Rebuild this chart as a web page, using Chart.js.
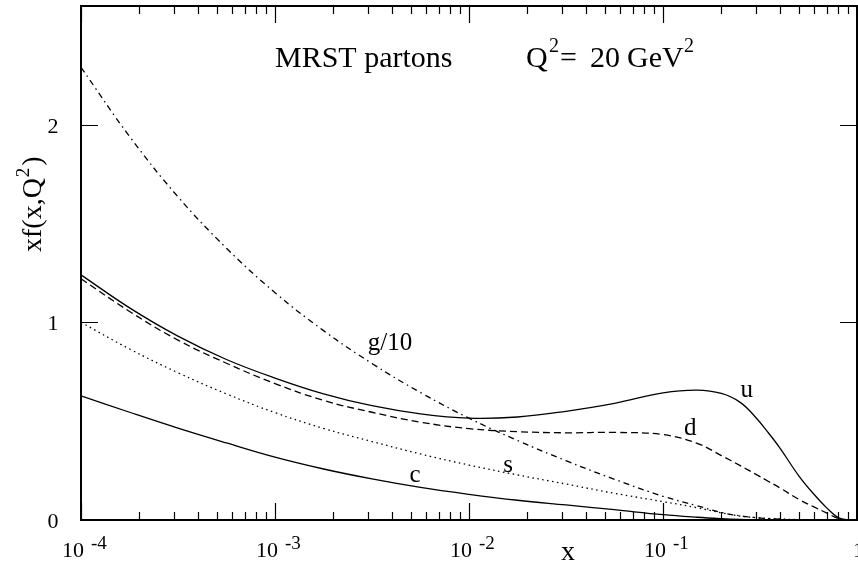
<!DOCTYPE html>
<html><head><meta charset="utf-8">
<script src="https://cdn.jsdelivr.net/npm/chart.js@4/dist/chart.umd.min.js"></script>
<style>html,body{margin:0;padding:0;background:#fff}#wrap{width:858px;height:563px}</style>
</head><body><div id="wrap"><canvas id="c" width="858" height="563"></canvas></div>
<script>
// ---- data (x, then xf(x,Q^2) per parton) ----
const xValues = [1e-4, 1.78e-4, 3.16e-4, 5.62e-4, 1e-3, 1.78e-3, 3.16e-3, 5.62e-3, 1e-2, 1.78e-2, 3.16e-2, 5.62e-2, 0.1, 0.15, 0.2, 0.25, 0.3, 0.35, 0.4, 0.5, 0.6, 0.7, 0.8, 0.9, 1.0];
const uValues = [1.24, 1.073, 0.93, 0.812, 0.718, 0.638, 0.578, 0.537, 0.515, 0.521, 0.55, 0.59, 0.643, 0.657, 0.64, 0.595, 0.52, 0.44, 0.365, 0.225, 0.13, 0.06, 0.012, 0.0, 0.0];
const dValues = [1.22, 1.055, 0.91, 0.793, 0.69, 0.605, 0.545, 0.495, 0.462, 0.447, 0.441, 0.443, 0.432, 0.388, 0.326, 0.275, 0.232, 0.195, 0.163, 0.105, 0.066, 0.035, 0.008, 0.0, 0.0];
const sValues = [1.0, 0.865, 0.745, 0.638, 0.543, 0.463, 0.397, 0.334, 0.278, 0.228, 0.182, 0.135, 0.093, 0.062, 0.036, 0.02, 0.012, 0.008, 0.005, 0.002, 0.0, 0.0, 0.0, 0.0, 0.0];
const cValues = [0.628, 0.545, 0.465, 0.39, 0.318, 0.258, 0.208, 0.165, 0.13, 0.1, 0.076, 0.052, 0.027, 0.014, 0.007, 0.003, 0.001, 0.0, 0.0, 0.0, 0.0, 0.0, 0.0, 0.0, 0.0];
const gOver10Values = [2.29, 1.94, 1.635, 1.375, 1.15, 0.958, 0.792, 0.645, 0.515, 0.402, 0.30, 0.206, 0.12, 0.072, 0.038, 0.021, 0.012, 0.007, 0.004, 0.001, 0.0, 0.0, 0.0, 0.0, 0.0];

const seriesNames = ['u', 'd', 's', 'c', 'g/10'];
const xMajorTicks = [1e-4, 1e-3, 1e-2, 1e-1, 1];
const xTickExponents = ['-4', '-3', '-2', '-1', ''];
const xMinorMultipliers = [2, 3, 4, 5, 6, 7, 8, 9];
const yMajorTicks = [0, 1, 2];
const yTickLabels = ['0', '1', '2'];
// label anchor points (data coordinates)
const curveLabelX = [0.27, 0.138, 0.0159, 0.00527, 0.00392];
const curveLabelY = [0.62, 0.43, 0.243, 0.193, 0.86];

const FONT = '"Liberation Serif", "Times New Roman", serif';

function pts(ys) { return xValues.map((x, i) => ({x: x, y: ys[i]})); }
function ds(label, ys, dash) {
  return {label: label, data: pts(ys), borderColor: '#000', borderWidth: 1.3,
    borderDash: dash, pointRadius: 0, fill: false, tension: 0.4,
    borderCapStyle: 'butt'};
}

function rich(ctx, x, y, pieces) {
  let cx = x;
  for (const p of pieces) {
    ctx.font = p[1] + 'px ' + FONT;
    ctx.fillText(p[0], cx, y - (p[2] || 0));
    cx += ctx.measureText(p[0]).width + (p[3] || 0);
  }
}

const decor = {
  id: 'decor',
  afterDatasetsDraw(chart) {
    const ctx = chart.ctx, a = chart.chartArea;
    const xs = chart.scales.x, ys = chart.scales.y;
    ctx.save();
    ctx.strokeStyle = '#000'; ctx.fillStyle = '#000';
    // frame
    ctx.lineWidth = 2;
    ctx.strokeRect(a.left, a.top, a.right - a.left, a.bottom - a.top);
    // x ticks (inward, bottom and top)
    ctx.lineWidth = 1.2;
    ctx.beginPath();
    xMajorTicks.forEach((t, i) => {
      const px = Math.round(xs.getPixelForValue(t)) + 0.5;
      ctx.moveTo(px, a.bottom); ctx.lineTo(px, a.bottom - 17);
      ctx.moveTo(px, a.top); ctx.lineTo(px, a.top + 17);
      if (i < xMajorTicks.length - 1) {
        xMinorMultipliers.forEach(m => {
          const q = Math.round(xs.getPixelForValue(t * m)) + 0.5;
          ctx.moveTo(q, a.bottom); ctx.lineTo(q, a.bottom - 8);
          ctx.moveTo(q, a.top); ctx.lineTo(q, a.top + 8);
        });
      }
    });
    yMajorTicks.forEach(t => {
      const py = Math.round(ys.getPixelForValue(t)) + 0.5;
      ctx.moveTo(a.left, py); ctx.lineTo(a.left + 17, py);
      ctx.moveTo(a.right, py); ctx.lineTo(a.right - 17, py);
    });
    ctx.stroke();
    // x tick labels
    ctx.textBaseline = 'alphabetic';
    xMajorTicks.forEach((t, i) => {
      const px = xs.getPixelForValue(t);
      if (xTickExponents[i] === '') {
        ctx.font = '22px ' + FONT; ctx.textAlign = 'left';
        ctx.fillText('1', px - 4, 557);
      } else {
        ctx.font = '22px ' + FONT; ctx.textAlign = 'right';
        ctx.fillText('10', px + 3, 557);
        ctx.font = '19px ' + FONT; ctx.textAlign = 'left';
        ctx.fillText(xTickExponents[i], px + 10, 549);
      }
    });
    // y tick labels
    ctx.font = '22px ' + FONT; ctx.textAlign = 'center';
    yMajorTicks.forEach((t, i) => {
      ctx.fillText(yTickLabels[i], 53, ys.getPixelForValue(t) + 8);
    });
    // axis titles
    ctx.font = '28px ' + FONT; ctx.textAlign = 'center';
    ctx.fillText('x', 568, 560);
    ctx.save();
    ctx.translate(41, 252); ctx.rotate(-Math.PI / 2);
    ctx.textAlign = 'left';
    rich(ctx, 0, 0, [['xf(x,Q', 28, 0, 1], ['2', 19, 12, 2], [')', 28, 0]]);
    ctx.restore();
    // curve labels
    ctx.font = '25px ' + FONT; ctx.textAlign = 'center';
    seriesNames.forEach((n, i) => {
      ctx.fillText(n, xs.getPixelForValue(curveLabelX[i]), ys.getPixelForValue(curveLabelY[i]));
    });
    // title
    ctx.textAlign = 'left';
    ctx.font = '30px ' + FONT;
    ctx.fillText('MRST partons', 275, 67);
    ctx.fillText('Q', 526, 67);
    ctx.fillText('=', 560, 67);
    ctx.fillText('20', 590, 67);
    ctx.fillText('GeV', 627, 67);
    ctx.font = '20px ' + FONT;
    ctx.fillText('2', 549, 52);
    ctx.fillText('2', 684, 52);
    ctx.restore();
  }
};

new Chart(document.getElementById('c'), {
  type: 'line',
  data: {datasets: [
    ds('u', uValues, []),
    ds('d', dValues, [7, 4]),
    ds('s', sValues, [1.5, 3.5]),
    ds('c', cValues, []),
    ds('g/10', gOver10Values, [6, 4, 1.5, 4])
  ]},
  options: {
    responsive: false, animation: false, devicePixelRatio: 1,
    layout: {padding: {left: 81, right: 1, top: 6, bottom: 43}},
    scales: {
      x: {type: 'logarithmic', min: 1e-4, max: 1, display: false},
      y: {type: 'linear', min: 0, max: 2.6, display: false}
    },
    plugins: {legend: {display: false}, tooltip: {enabled: false}}
  },
  plugins: [decor]
});
</script></body></html>
